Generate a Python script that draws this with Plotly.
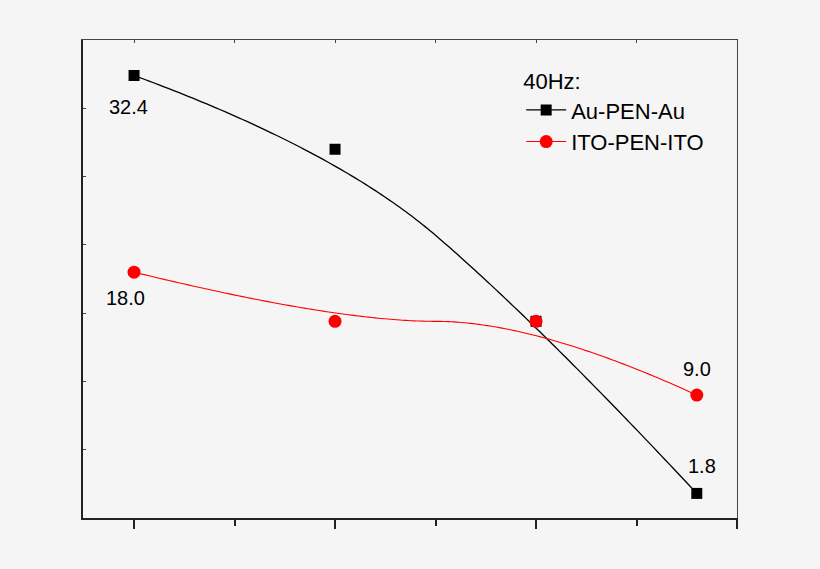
import numpy as np
import plotly.graph_objects as go

# ---- data ----
x_pos = [0, 1, 2, 2.8]
au_pen_au = [32.4, 27.0, 14.4, 1.8]
ito_pen_ito = [18.0, 14.4, 14.4, 9.0]
series_names = ["Au-PEN-Au", "ITO-PEN-ITO"]
legend_title = "40Hz:"

BG = "#f5f5f5"
FONT = "Liberation Sans, Arial, Helvetica, sans-serif"


def bspline_connect(xs, ys, n=80):
    """Origin-style quadratic B-spline connector using the data points as control points."""
    P = np.column_stack([xs, ys]).astype(float)
    k = len(P)
    if k < 3:
        return P[:, 0], P[:, 1]
    starts = [P[0]] + [(P[i] + P[i + 1]) / 2 for i in range(1, k - 2)]
    ends = [(P[i] + P[i + 1]) / 2 for i in range(1, k - 2)] + [P[-1]]
    ctrls = [P[i] for i in range(1, k - 1)]
    t = np.linspace(0, 1, n)[:, None]
    pts = []
    for s, c, e in zip(starts, ctrls, ends):
        seg = (1 - t) ** 2 * s + 2 * t * (1 - t) * c + t ** 2 * e
        pts.append(seg if not pts else seg[1:])
    pts = np.vstack(pts)
    return pts[:, 0], pts[:, 1]


fig = go.Figure()

styles = [
    dict(color="black", symbol="square", size=11, lw=1.3),
    dict(color="#ff0000", symbol="circle", size=13, lw=1.1),
]

for name, ys, st in zip(series_names, [au_pen_au, ito_pen_ito], styles):
    cx, cy = bspline_connect(x_pos, ys)
    fig.add_trace(go.Scatter(x=cx, y=cy, mode="lines",
                             line=dict(color=st["color"], width=st["lw"], simplify=False),
                             showlegend=False, hoverinfo="skip"))
    fig.add_trace(go.Scatter(x=x_pos, y=ys, mode="markers", name=name, showlegend=False,
                             marker=dict(color=st["color"], symbol=st["symbol"], size=st["size"],
                                         line=dict(width=0))))
    # legend entry (line + marker)
    fig.add_trace(go.Scatter(x=[None], y=[None], mode="lines+markers", name=name,
                             line=dict(color=st["color"], width=st["lw"]),
                             marker=dict(color=st["color"], symbol=st["symbol"], size=st["size"])))

# invisible trace so the top/right frame axes get drawn
fig.add_trace(go.Scatter(x=[None], y=[None], xaxis="x2", yaxis="y2", showlegend=False,
                         hoverinfo="skip"))

# value labels
label_specs = [
    (x_pos[0], au_pen_au[0], -6, -31),
    (x_pos[-1], au_pen_au[-1], 5, 27),
    (x_pos[0], ito_pen_ito[0], -9, -26),
    (x_pos[-1], ito_pen_ito[-1], 0, 26),
]
for xv, yv, dx, dy in label_specs:
    fig.add_annotation(x=xv, y=yv, text=f"{yv:.1f}", showarrow=False, xshift=dx, yshift=dy,
                       font=dict(family=FONT, size=20, color="black"))

fig.update_layout(
    width=820, height=569,
    margin=dict(l=83, r=83, t=40, b=51),
    paper_bgcolor=BG, plot_bgcolor=BG,
    font=dict(family=FONT, size=20, color="black"),
    legend=dict(
        x=0.67, y=0.957, xanchor="left", yanchor="top",
        bgcolor="rgba(0,0,0,0)", borderwidth=0,
        font=dict(family=FONT, size=22, color="black"),
        title=dict(text=legend_title, font=dict(family=FONT, size=22, color="black"), side="top"),
        tracegroupgap=0, itemwidth=40,
    ),
    xaxis=dict(
        range=[-0.254, 3.0], showgrid=False, zeroline=False,
        showline=True, linecolor="#222", linewidth=2,
        ticks="outside", tick0=0, dtick=1, ticklen=9, tickwidth=2, tickcolor="#222",
        showticklabels=False,
        minor=dict(ticks="outside", dtick=0.5, tick0=0, ticklen=6, tickwidth=1.5, tickcolor="#222"),
    ),
    xaxis2=dict(
        range=[-0.254, 3.0], overlaying="x", side="top", showgrid=False, zeroline=False,
        showline=True, linecolor="#444", linewidth=1,
        ticks="inside", tick0=0, dtick=0.5, ticklen=3, tickwidth=1, tickcolor="#444",
        showticklabels=False,
    ),
    yaxis=dict(
        range=[0, 35], showgrid=False, zeroline=False,
        showline=True, linecolor="#222", linewidth=1.5,
        ticks="inside", tick0=0, dtick=5, ticklen=3, tickwidth=1, tickcolor="#444",
        showticklabels=False,
    ),
    yaxis2=dict(
        range=[0, 35], overlaying="y", side="right", showgrid=False, zeroline=False,
        showline=True, linecolor="#444", linewidth=1, ticks="", showticklabels=False,
    ),
)

fig.write_html(
    "out.html",
    config={"displayModeBar": False},
    post_script="document.body.style.margin='0';document.body.style.background='#f5f5f5';",
)
